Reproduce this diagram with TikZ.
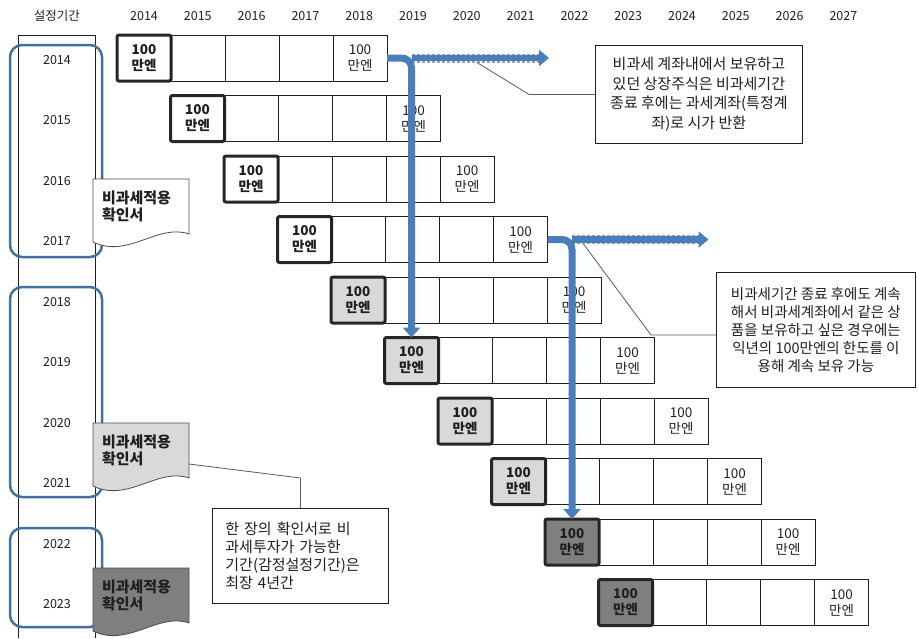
\documentclass[tikz,border=0pt]{standalone}
\usepackage{fontspec}
\setmainfont{Noto Sans CJK KR}
\usepackage{tikz}
\usepackage{xcolor}
\usetikzlibrary{arrows.meta,positioning,calc}
\definecolor{Ink}{HTML}{1F1F1F}
\definecolor{Frame}{HTML}{262626}
\definecolor{Flow}{HTML}{4A7EBB}
\definecolor{Period}{HTML}{41719C}
\definecolor{Light}{HTML}{D9D9D9}
\definecolor{Dark}{HTML}{7F7F7F}
\definecolor{Leader}{HTML}{595959}
\tikzset{
  cell/.style={draw=Ink, line width=0.8pt, minimum width=54pt, minimum height=46pt, inner sep=0pt, outer sep=0pt, align=center, text=Ink, font=\fontsize{13.5}{16}\selectfont},
  firstcell/.style={cell, draw=Frame, line width=3pt, rounded corners=2pt, font=\bfseries\fontsize{13.5}{16}\selectfont},
  yearlabel/.style={text=Ink, inner sep=1pt, font=\fontsize{12.5}{14}\selectfont},
  period/.style={draw=Period, line width=2.5pt, rounded corners=12pt},
  sheet/.style={draw=Ink!80, line width=0.8pt},
  sheettext/.style={minimum width=96pt, minimum height=55pt, text width=78pt, inner xsep=9pt, inner ysep=0pt, outer sep=0pt, align=left, text=Ink, font=\bfseries\fontsize{15}{17.5}\selectfont},
  note/.style={draw=Ink, line width=0.8pt, fill=white, align=center, inner sep=0pt, text=Ink, font=\fontsize{15}{19.5}\selectfont},
  leader/.style={draw=Leader, line width=0.8pt},
  flow/.style={draw=Flow, line width=7pt, rounded corners=10pt, -{Triangle[length=10pt, width=17pt]}},
  flowrim/.style={draw=gray!75, line width=9pt, dash pattern=on 3pt off 2pt},
  flowtail/.style={draw=Flow, line width=6.5pt, -{Triangle[length=10pt, width=16pt]}}
}
% one year of deposits: first box plus four more
\newcommand{\fundrow}[3]{
  \begin{scope}[shift={({117+53.5*#2},{35+60.5*#2})}]
    \node[firstcell, fill=#3] (#1a) at (27,23) {100\\만엔};
    \node[cell, right=0pt of #1a] (#1b) {};
    \node[cell, right=0pt of #1b] (#1c) {};
    \node[cell, right=0pt of #1c] (#1d) {};
    \node[cell, right=0pt of #1d] (#1e) {100\\만엔};
  \end{scope}
}
% certificate sheet with a wavy bottom
\newcommand{\certsheet}[3]{
  \begin{scope}[shift={(93,#2)}]
    \filldraw[sheet, fill=#3] (0,0) -- (96,0) -- (96,55) .. controls (65,44) and (35,80) .. (0,63) -- cycle;
    \node[sheettext, anchor=north west] (#1) at (0,0) {비과세적용\\확인서};
  \end{scope}
}

\begin{document}
\begin{tikzpicture}[x=1pt, y=-1pt]
        \useasboundingbox (0,0) rectangle (919,638);
        \node[yearlabel] (head) at (57,16) {설정기간};
        \foreach \yr [count=\k from 0] in {2014,...,2027}
          \node[yearlabel] (top\yr) at ({144+53.8*\k},16) {\yr};
        \draw[Ink, line width=0.8pt] (18,638) -- (18,35) -- (95,35) -- (95,638);
        \foreach \yr [count=\k from 0] in {2014,...,2023}
          \node[yearlabel] (side\yr) at (57,{60+60.5*\k}) {\yr};
        \draw[period] (10,45) rectangle (102,257);
        \draw[period] (10,287) rectangle (102,497);
        \draw[period] (10,528) rectangle (102,627);
        \certsheet{doc1}{179}{white}
        \certsheet{doc2}{423}{Light}
        \certsheet{doc3}{568}{Dark}

        \fundrow{r1}{0}{white}
        \fundrow{r2}{1}{white}
        \fundrow{r3}{2}{white}
        \fundrow{r4}{3}{white}
        \fundrow{r5}{4}{Light}
        \fundrow{r6}{5}{Light}
        \fundrow{r7}{6}{Light}
        \fundrow{r8}{7}{Light}
        \fundrow{r9}{8}{Dark}
        \fundrow{r10}{9}{Dark}

        \coordinate (go1) at ($(r1e.east)+(162,0)$);
        \coordinate (go2) at ($(r4e.east)+(161,0)$);
        \coordinate (tap1) at ($(r1e.east)+(90,4.5)$);
        \coordinate (tap2) at ($(r4e.east)+(36,4.5)$);
        \draw[flowrim] (r6a.north |- r1e.east) -- ($(go1)+(-10,0)$);
        \draw[flowtail] (r6a.north |- r1e.east) -- (go1);
        \draw[flowrim] (r9a.north |- r4e.east) -- ($(go2)+(-10,0)$);
        \draw[flowtail] (r9a.north |- r4e.east) -- (go2);
        \draw[flow] (r1e.east) -| (r6a.north);
        \draw[flow] (r4e.east) -| (r9a.north);

        \node[note, minimum width=207pt, minimum height=98pt, anchor=north west] (note1) at (595,45)
          {비과세 계좌내에서 보유하고\\있던 상장주식은 비과세기간\\종료 후에는 과세계좌(특정계\\좌)로 시가 반환};
        \node[note, minimum width=199pt, minimum height=115pt, anchor=north west, font=\fontsize{14.5}{18}\selectfont] (note2) at (716,272)
          {비과세기간 종료 후에도 계속\\해서 비과세계좌에서 같은 상\\품을 보유하고 싶은 경우에는\\익년의 100만엔의 한도를 이\\용해 계속 보유 가능};
        \node[note, align=left, text width=150pt, inner xsep=13pt, minimum height=95pt, anchor=north west, font=\fontsize{15}{18}\selectfont] (note3) at (212,508)
          {한 장의 확인서로 비\\과세투자가 가능한\\기간(감정설정기간)은\\최장 4년간};
        \draw[leader] (note1.west) -- ++(-66,0) -- (tap1);
        \draw[leader] (tap2) -- ($(note2.north west)+(-65,63)$) -- ($(note2.north west)+(0,63)$);
        \draw[leader] ($(doc2.north east)+(0,41)$) -- ($(note3.north)+(0,-30)$) -- (note3.north);
      \end{tikzpicture}
\end{document}
